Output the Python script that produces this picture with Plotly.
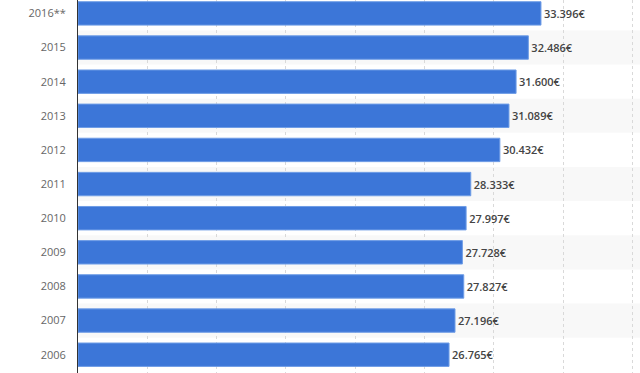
import plotly.graph_objects as go

years = ["2006", "2007", "2008", "2009", "2010", "2011", "2012", "2013", "2014", "2015", "2016**"]
values = [26765, 27196, 27827, 27728, 27997, 28333, 30432, 31089, 31600, 32486, 33396]
labels = [f"{v:,}".replace(",", ".") + "€" for v in values]

fig = go.Figure()
fig.add_trace(go.Bar(
    x=values, y=years, orientation="h",
    marker=dict(color="#3c76d8", line=dict(color="#6f9de6", width=1)),
    text=labels, textposition="outside",
    textfont=dict(family="Open Sans", size=11, color="#444444", weight=600),
    cliponaxis=False, hoverinfo="skip",
))

shapes = []
for i, yr in enumerate(years):
    if i % 2 == 1:
        shapes.append(dict(type="rect", xref="paper", yref="y", x0=0, x1=1,
                           y0=i - 0.5, y1=i + 0.5, fillcolor="#f8f8f8",
                           line=dict(width=0), layer="below"))

fig.update_layout(
    width=640, height=373,
    margin=dict(l=78, r=0, t=0, b=0),
    plot_bgcolor="white", paper_bgcolor="white",
    bargap=0.314, showlegend=False, shapes=shapes,
    font=dict(family="Open Sans"),
)
fig.update_xaxes(range=[0, 40540], dtick=5000, showticklabels=False,
                 showgrid=True, gridcolor="#d9d9d9", griddash="dot", gridwidth=1,
                 zeroline=False, fixedrange=True)
fig.update_yaxes(categoryorder="array", categoryarray=years, range=[-0.536, 10.393],
                 showline=True, linecolor="#333333", linewidth=1,
                 tickfont=dict(family="Open Sans", size=11, color="#666666"),
                 ticklabelstandoff=9, showgrid=False, fixedrange=True)

fig.write_html("out.html", config={"displayModeBar": False},
               post_script="document.body.style.margin='0';document.body.style.overflow='hidden';")
